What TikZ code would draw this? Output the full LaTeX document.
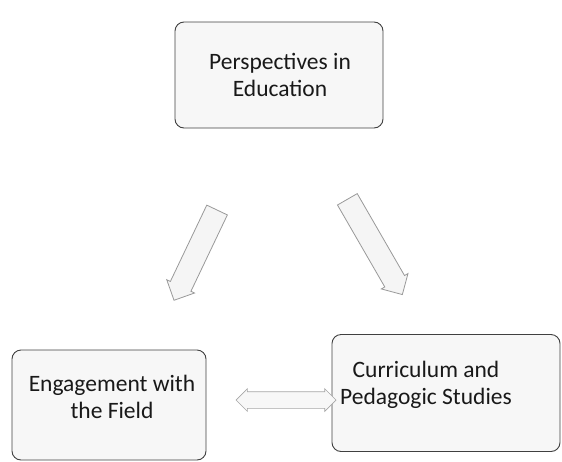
\documentclass[tikz,border=0pt]{standalone}
\usepackage{fontspec}
\setmainfont{Carlito}
\usetikzlibrary{shapes.arrows}
\begin{document}
\begin{tikzpicture}[x=1pt,y=-1pt,
  box/.style={draw=black!75, line width=0.9pt, rounded corners=9pt, inner sep=0pt, fill=black!3},
  txt/.style={align=center, font=\fontsize{23.5}{27}\selectfont, text=black!90, inner sep=0pt},
  barrow/.style={single arrow, draw=black!40, line width=0.8pt, fill=black!4,
    single arrow head extend=4pt, inner xsep=0pt, inner ysep=11pt},
  darrow/.style={double arrow, draw=black!35, line width=0.7pt, fill=black!3,
    double arrow head extend=3pt, inner xsep=0pt, inner ysep=8pt}]
\useasboundingbox (0,0) rectangle (562,461);
\node[box, minimum width=208, minimum height=106] (pe) at (279,75) {};
\node[txt] (pet) at (280,75) {Perspectives in\\Education};
\node[box, minimum width=194, minimum height=110] (ef) at (109,405) {};
\node[txt] (eft) at (112,397) {Engagement with\\the Field};
\node[box, minimum width=228, minimum height=117] (cp) at (446,393) {};
\node[txt] (cpt) at (426,385) {Curriculum and\\Pedagogic Studies};
\node[barrow, rotate=244.5, minimum height=100] (a1) at (198,250) {};
\node[barrow, rotate=-60, minimum height=110] (a2) at (372,242) {};
\node[darrow, minimum height=100] (a3) at (286,400) {};
\end{tikzpicture}
\end{document}
